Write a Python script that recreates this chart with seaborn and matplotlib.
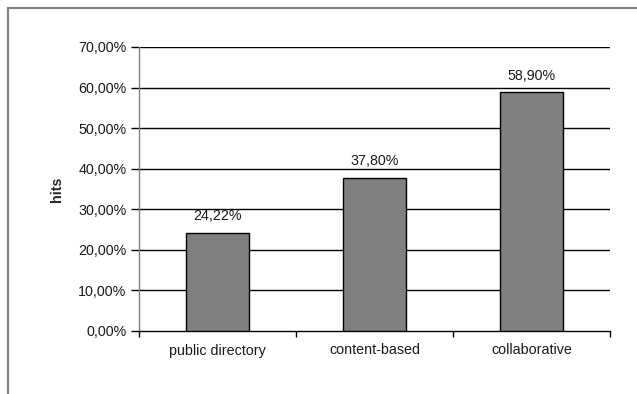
import matplotlib
matplotlib.use("Agg")
import matplotlib.pyplot as plt
import matplotlib.patches as mpatches
import seaborn as sns
import pandas as pd

categories = ["public directory", "content-based", "collaborative"]
values = [24.22, 37.80, 58.90]
yticks = [0, 10, 20, 30, 40, 50, 60, 70]

sns.set_theme(style="white")
plt.rcParams['font.family'] = ['Liberation Sans', 'DejaVu Sans']

df = pd.DataFrame({"cat": categories, "val": values})

fig = plt.figure(figsize=(6.37, 3.94), dpi=100)
ax = fig.add_axes([139/637, 1-331/394, (610-139)/637, (331-47)/394])

sns.barplot(data=df, x="cat", y="val", ax=ax, color="#808080", saturation=1,
            width=0.4, edgecolor="black", linewidth=1, zorder=3)

fs = 10.3
ax.set_ylim(0, 70)
ax.set_xlim(-0.5, 2.5)
ax.set_yticks(yticks)
ax.set_yticklabels([f"{t:.2f}%".replace('.', ',') for t in yticks], fontsize=fs, color="#1a1a1a")
for t in yticks[1:]:
    ax.axhline(t, color="black", linewidth=1, zorder=1)

ax.set_xticks([-0.5, 0.5, 1.5, 2.5], minor=False)
ax.set_xticklabels([])
ax.set_xticks([0, 1, 2], minor=True)
ax.set_xticklabels(categories, minor=True, fontsize=fs, color="#1a1a1a")
ax.tick_params(axis='x', which='major', direction='out', length=4, width=1, color='black', bottom=True)
ax.tick_params(axis='x', which='minor', length=0, pad=9)
ax.tick_params(axis='y', direction='out', length=6, width=1, color='black', left=True, pad=3)

for s in ["top", "right"]:
    ax.spines[s].set_visible(False)
ax.spines["left"].set_color("#808080")
ax.spines["bottom"].set_color("black")
ax.spines["left"].set_linewidth(1)
ax.spines["bottom"].set_linewidth(1)

ax.set_xlabel("")
ax.set_ylabel("hits", fontsize=fs, fontweight="bold", labelpad=10)

for i, v in enumerate(values):
    ax.text(i, v + 2.3, f"{v:.2f}%".replace('.', ','), ha="center", va="bottom",
            fontsize=fs, color="#1a1a1a")

rect = mpatches.Rectangle((7.5/637, -0.05), 1.2, 1 - 7.5/394 + 0.05, transform=fig.transFigure,
                          fill=False, edgecolor="#808080", linewidth=1.5, clip_on=False)
fig.patches.append(rect)

fig.savefig("out.png", dpi=100)
